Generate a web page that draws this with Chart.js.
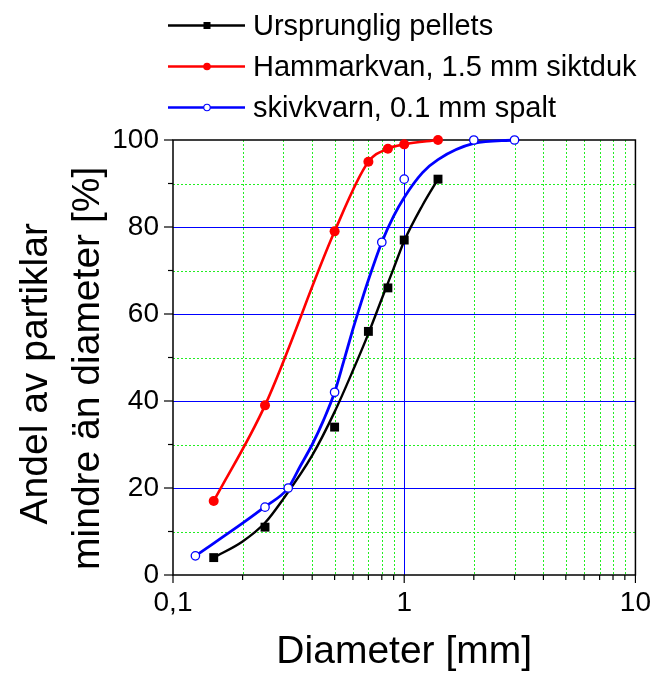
<!DOCTYPE html>
<html><head><meta charset="utf-8">
<script src="https://cdn.jsdelivr.net/npm/chart.js@4"></script>
<style>
html,body{margin:0;padding:0;background:#fff;}
#wrap{position:relative;width:662px;height:673px;}
#c{position:absolute;left:0;top:0;}
#legend{position:absolute;left:168px;top:5px;font-family:"Liberation Sans",Arial,sans-serif;font-size:29px;color:#000;}
.row{display:flex;align-items:center;height:41px;line-height:41px;white-space:nowrap;}
.row svg{width:80px;height:41px;flex:none;margin-right:5px;display:block;}
</style></head><body>
<div id="wrap"><canvas id="c" width="662" height="673"></canvas><div id="legend"></div></div>
<script>
// ---- data ----
const seriesNames = ['Ursprunglig pellets', 'Hammarkvan, 1.5 mm siktduk', 'skivkvarn, 0.1 mm spalt'];

const blackX = [0.15, 0.25, 0.5, 0.7, 0.85, 1.0, 1.4];
const blackY = [4, 11, 34, 56, 66, 77, 91];
const blackFitX = [0.15, 0.2, 0.25, 0.3, 0.4, 0.5, 0.6, 0.7, 0.8, 0.9, 1.0, 1.2, 1.4];
const blackFitY = [4, 7.7, 12, 17.5, 27.5, 37.5, 47, 55.5, 63.5, 70.5, 76.8, 85, 91];

const redX = [0.15, 0.25, 0.5, 0.7, 0.85, 1.0, 1.4];
const redY = [17, 39, 79, 95, 98, 99, 100];

const blueX = [0.125, 0.25, 0.315, 0.5, 0.8, 1.0, 2.0, 3.0];
const blueY = [4.4, 15.6, 20, 42, 76.5, 91, 100, 100];
const blueFitX = [0.125, 0.2, 0.25, 0.315, 0.355, 0.4, 0.447, 0.5, 0.55, 0.6, 0.65, 0.7, 0.8, 0.9, 1.0, 1.2, 1.4, 2.0, 3.0];
const blueFitY = [4.4, 11.9, 15.7, 20, 25, 30, 35.5, 42, 49.5, 56.5, 62.5, 67.8, 76.5, 82.5, 86.8, 92.5, 95.5, 99.2, 100];

const xTickValues = [0.1, 1, 10];
const xTickLabels = ['0,1', '1', '10'];
const xMinorValues = [0.2, 0.3, 0.4, 0.5, 0.6, 0.7, 0.8, 0.9, 2, 3, 4, 5, 6, 7, 8, 9];
const yTickValues = [0, 20, 40, 60, 80, 100];
const yMinorValues = [10, 30, 50, 70, 90];

const xTitle = 'Diameter [mm]';
const yTitle = ['Andel av partiklar', 'mindre än diameter [%]'];

// ---- helpers ----
const pts = (xs, ys) => xs.map((v, i) => ({x: v, y: ys[i]}));
const FONT = '"Liberation Sans", Arial, sans-serif';
Chart.defaults.font.family = FONT;
Chart.defaults.color = '#000';

// ---- HTML legend ----
const legendDefs = [
  {color: '#000', marker: '<rect x="35.5" y="17" width="7" height="7" fill="#000"/>'},
  {color: '#f00', marker: '<circle cx="39" cy="20.5" r="3.8" fill="#f00"/>'},
  {color: '#00f', marker: '<circle cx="39" cy="20.5" r="3.2" fill="#fff" stroke="#00f" stroke-width="1.1"/>'}
];
const legendEl = document.getElementById('legend');
seriesNames.forEach((name, i) => {
  const d = legendDefs[i];
  const row = document.createElement('div');
  row.className = 'row';
  row.innerHTML = '<svg viewBox="0 0 80 41"><line x1="0" y1="20.5" x2="77" y2="20.5" stroke="' + d.color + '" stroke-width="2.4"/>' + d.marker + '</svg><span></span>';
  row.querySelector('span').textContent = name;
  legendEl.appendChild(row);
});

// ---- grid / frame / tick marks plugin ----
const framePlugin = {
  id: 'frame',
  beforeDatasetsDraw(chart) {
    const {ctx, chartArea: a, scales: {x, y}} = chart;
    const seg = (x1, y1, x2, y2) => { ctx.beginPath(); ctx.moveTo(x1, y1); ctx.lineTo(x2, y2); ctx.stroke(); };
    ctx.save();
    ctx.lineWidth = 1;
    ctx.strokeStyle = '#22ee22';
    ctx.setLineDash([2, 2]);
    xMinorValues.forEach(v => { const p = Math.round(x.getPixelForValue(v)) + 0.5; seg(p, a.top, p, a.bottom); });
    yMinorValues.forEach(v => { const p = Math.round(y.getPixelForValue(v)) + 0.5; seg(a.left, p, a.right, p); });
    ctx.setLineDash([]);
    ctx.strokeStyle = '#0000ff';
    xTickValues.slice(1, -1).forEach(v => { const p = Math.round(x.getPixelForValue(v)) + 0.5; seg(p, a.top, p, a.bottom); });
    yTickValues.slice(1, -1).forEach(v => { const p = Math.round(y.getPixelForValue(v)) + 0.5; seg(a.left, p, a.right, p); });
    ctx.strokeStyle = '#000';
    ctx.lineWidth = 1.5;
    ctx.strokeRect(a.left, a.top, a.right - a.left, a.bottom - a.top);
    ctx.lineWidth = 1.2;
    xTickValues.forEach(v => { const p = x.getPixelForValue(v); seg(p, a.bottom, p, a.bottom + 8); });
    xMinorValues.forEach(v => { const p = x.getPixelForValue(v); seg(p, a.bottom, p, a.bottom + 5); });
    yTickValues.forEach(v => { const p = y.getPixelForValue(v); seg(a.left - 9, p, a.left, p); });
    yMinorValues.forEach(v => { const p = y.getPixelForValue(v); seg(a.left - 5, p, a.left, p); });
    ctx.restore();
  }
};

new Chart(document.getElementById('c'), {
  type: 'line',
  data: {
    datasets: [
      {label: seriesNames[0] + ' fit', data: pts(blackFitX, blackFitY), showLine: true, borderColor: '#000', borderWidth: 2.4,
       pointRadius: 0, cubicInterpolationMode: 'monotone', order: 6, clip: false},
      {label: seriesNames[2] + ' fit', data: pts(blueFitX, blueFitY), showLine: true, borderColor: '#0000ff', borderWidth: 2.8,
       pointRadius: 0, cubicInterpolationMode: 'monotone', order: 5, clip: false},
      {label: seriesNames[1], data: pts(redX, redY), showLine: true, borderColor: '#ff0000', borderWidth: 2.6,
       cubicInterpolationMode: 'monotone', pointStyle: 'circle', pointRadius: 5, pointBackgroundColor: '#ff0000',
       pointBorderColor: '#ff0000', pointBorderWidth: 0, order: 4, clip: false},
      {label: seriesNames[0], data: pts(blackX, blackY), showLine: false, pointStyle: 'rect', pointRadius: 6.3,
       pointBackgroundColor: '#000', pointBorderColor: '#000', pointBorderWidth: 0, order: 2, clip: false},
      {label: seriesNames[2], data: pts(blueX, blueY), showLine: false, pointStyle: 'circle', pointRadius: 4.2,
       pointBackgroundColor: '#fff', pointBorderColor: '#0000ff', pointBorderWidth: 1.3, order: 1, clip: false}
    ]
  },
  options: {
    responsive: false,
    animation: false,
    devicePixelRatio: 1,
    layout: {padding: {top: 140, right: 20, bottom: 0, left: 0}},
    plugins: {legend: {display: false}, tooltip: {enabled: false}},
    scales: {
      x: {
        type: 'logarithmic', min: 0.1, max: 10,
        grid: {display: false, drawTicks: false},
        border: {display: false},
        afterBuildTicks: s => { s.ticks = xTickValues.map(v => ({value: v, major: true})); },
        afterFit: s => { s.height = 98; },
        ticks: {autoSkip: false, maxRotation: 0, minRotation: 0, padding: 11, font: {size: 28},
          callback: v => { const i = xTickValues.indexOf(v); return i >= 0 ? xTickLabels[i] : ''; }},
        title: {display: true, text: xTitle, font: {size: 39, lineHeight: 1}, padding: {top: 0, bottom: 1}}
      },
      y: {
        type: 'linear', min: 0, max: 100,
        grid: {display: false, drawTicks: false},
        border: {display: false},
        afterBuildTicks: s => { s.ticks = yTickValues.map(v => ({value: v})); },
        afterFit: s => { s.width = 173; },
        ticks: {padding: 14, font: {size: 28}, callback: v => String(v)},
        title: {display: true, text: [yTitle[0] + '\u00a0\u00a0\u00a0', yTitle[1] + '\u00a0\u00a0'],
          font: {size: 39, lineHeight: 1.344}, padding: {top: 9.6, bottom: 0}}
      }
    }
  },
  plugins: [framePlugin]
});
</script>
</body></html>
